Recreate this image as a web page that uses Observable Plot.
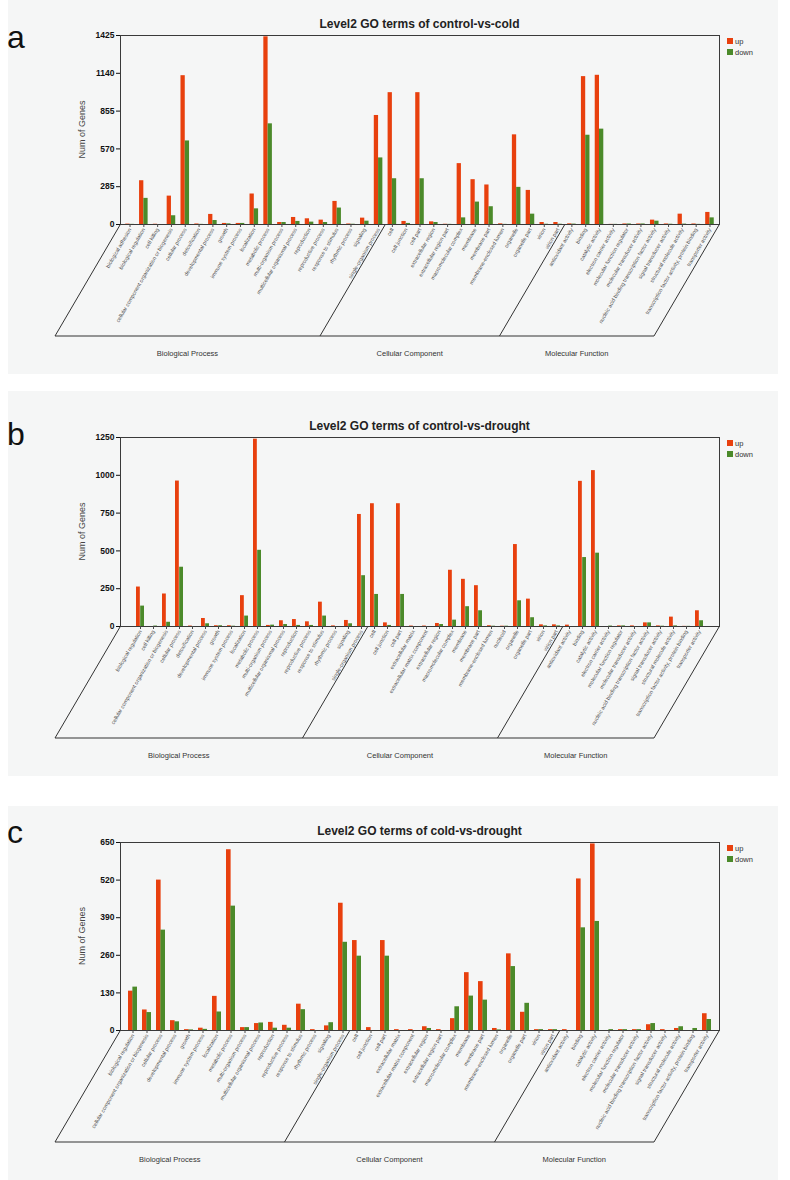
<!DOCTYPE html>
<html>
<head>
<meta charset="utf-8">
<script src="https://cdn.jsdelivr.net/npm/d3@7"></script>
<script src="https://cdn.jsdelivr.net/npm/@observablehq/plot@0.6"></script>
<style>
  body { margin: 0; background: #ffffff; font-family: "Liberation Sans", Arial, sans-serif; }
  #page { position: relative; width: 790px; height: 1180px; overflow: hidden; background: #fff; }
  .bg { position: absolute; left: 8px; width: 770px; background: #f5f6f6; }
  .holder { position: absolute; left: 0; width: 790px; }
  .letter { position: absolute; left: 7px; font-size: 32px; line-height: 1; color: #111; }
  .title { position: absolute; left: 120px; width: 599px; text-align: center; font-weight: bold;
           font-size: 12px; line-height: 14px; color: #222; }
  .leg { position: absolute; left: 727px; font-size: 7.5px; color: #333; line-height: 7px; }
  .leg span.sw { display: inline-block; width: 6px; height: 6px; vertical-align: top; margin-right: 2px; }
  svg g[aria-label="y-axis tick label"] text { font-weight: bold; }
</style>
</head>
<body>
<div id="page"></div>
<script>
// ---------- Panel a: control-vs-cold ----------
const bpA = ["biological adhesion","biological regulation","cell killing","cellular component organization or biogenesis","cellular process","detoxification","developmental process","growth","immune system process","localization","metabolic process","multi-organism process","multicellular organismal process","reproduction","reproductive process","response to stimulus","rhythmic process","signaling","single-organism process"];
const ccA = ["cell","cell junction","cell part","extracellular region","extracellular region part","macromolecular complex","membrane","membrane part","membrane-enclosed lumen","organelle","organelle part","virion","virion part"];
const mfA = ["antioxidant activity","binding","catalytic activity","electron carrier activity","molecular function regulator","molecular transducer activity","nucleic acid binding transcription factor activity","signal transducer activity","structural molecule activity","transcription factor activity, protein binding","transporter activity"];
const upA   = [3,330,2,214,1122,4,76,8,8,230,1415,15,53,43,33,174,4,48,822,  994,23,994,20,2,459,338,298,5,676,257,15,15,  5,1115,1125,1,4,4,33,4,78,4,91];
const downA = [1,197,0,66,630,1,30,5,8,118,759,15,23,18,15,124,2,25,502,     345,8,345,15,1,50,169,134,1,280,78,2,2,      3,673,719,1,4,4,25,2,3,1,50];
const ticksA = [0,285,570,855,1140,1425];

// ---------- Panel b: control-vs-drought ----------
const bpB = ["biological regulation","cell killing","cellular component organization or biogenesis","cellular process","detoxification","developmental process","growth","immune system process","localization","metabolic process","multi-organism process","multicellular organismal process","reproduction","reproductive process","response to stimulus","rhythmic process","signaling","single-organism process"];
const ccB = ["cell","cell junction","cell part","extracellular matrix","extracellular matrix component","extracellular region","macromolecular complex","membrane","membrane part","membrane-enclosed lumen","nucleoid","organelle","organelle part","virion","virion part"];
const mfB = ["antioxidant activity","binding","catalytic activity","electron carrier activity","molecular function regulator","molecular transducer activity","nucleic acid binding transcription factor activity","signal transducer activity","structural molecule activity","transcription factor activity, protein binding","transporter activity"];
const upB   = [261,0,215,962,3,53,5,5,204,1239,7,38,46,31,161,4,40,741,  812,24,812,3,3,20,372,312,270,5,2,542,181,11,11,  9,960,1031,0,4,4,24,4,62,1,104];
const downB = [135,3,28,392,0,18,5,2,69,504,9,13,7,7,69,0,18,336,       212,7,212,0,0,13,42,131,104,2,2,170,58,4,4,        0,456,485,3,4,0,24,2,4,1,38];
const ticksB = [0,250,500,750,1000,1250];

// ---------- Panel c: cold-vs-drought ----------
const bpC = ["biological regulation","cellular component organization or biogenesis","cellular process","developmental process","growth","immune system process","localization","metabolic process","multi-organism process","multicellular organismal process","reproduction","reproductive process","response to stimulus","rhythmic process","signaling","single-organism process"];
const ccC = ["cell","cell junction","cell part","extracellular matrix","extracellular matrix component","extracellular region","extracellular region part","macromolecular complex","membrane","membrane part","membrane-enclosed lumen","organelle","organelle part","virion","virion part"];
const mfC = ["antioxidant activity","binding","catalytic activity","electron carrier activity","molecular function regulator","molecular transducer activity","nucleic acid binding transcription factor activity","signal transducer activity","structural molecule activity","transcription factor activity, protein binding","transporter activity"];
const upC   = [136,71,520,34,3,8,118,625,10,24,28,18,91,3,16,440,  311,10,311,3,3,13,3,41,200,169,7,265,63,3,3,  3,524,645,0,3,3,20,3,7,0,58];
const downC = [150,62,347,30,2,4,64,430,10,26,8,8,72,0,27,305,     257,0,257,0,0,7,0,82,119,105,2,221,94,3,3,     0,355,377,3,3,3,24,0,13,7,38];
const ticksC = [0,130,260,390,520,650];

const groupNames = ["Biological Process","Cellular Component","Molecular Function"];
const RED = "#e8400e", GREEN = "#4b8a2a";

const page = document.getElementById("page");

function addDiv(cls, style, html) {
  const d = document.createElement("div");
  d.className = cls;
  Object.assign(d.style, style);
  if (html != null) d.innerHTML = html;
  page.appendChild(d);
  return d;
}

function drawPanel(cfg) {
  const cats = [...cfg.bp, ...cfg.cc, ...cfg.mf];
  const data = cats.map((c, i) => ({cat: c, up: cfg.up[i], down: cfg.down[i]}));
  const W = 790, ML = 120, MR = 71, MT = cfg.mt, MB = 150, H = cfg.h;
  const P = 0.38;
  const step = (W - ML - MR) / (cats.length + P);
  const bw = step * (1 - P);

  addDiv("bg", {top: cfg.top + "px", height: H + "px"});

  const chart = Plot.plot({
    width: W, height: H,
    marginLeft: ML, marginRight: MR, marginTop: MT, marginBottom: MB,
    style: {background: "transparent", fontFamily: "'Liberation Sans', Arial, sans-serif", overflow: "visible"},
    x: {domain: cats, padding: P, label: null},
    y: {domain: [0, cfg.ticks[cfg.ticks.length - 1]], label: null},
    marks: [
      Plot.barY(data, {x: "cat", y: "up", fill: RED, insetRight: bw / 2}),
      Plot.barY(data, {x: "cat", y: "down", fill: GREEN, insetLeft: bw / 2}),
      Plot.frame({stroke: "#3a3a3a", strokeWidth: 1}),
      Plot.axisX({tickRotate: -60, fontSize: 5.3, tickSize: 3, tickPadding: 1, color: "#4a4a4a", label: null}),
      Plot.axisY({ticks: cfg.ticks, tickFormat: d => String(d), tickSize: 4, tickPadding: 2, fontSize: 8.5, fontWeight: "bold", color: "#111", label: null})
    ]
  });

  const holder = addDiv("holder", {top: cfg.top + "px", height: H + "px"});
  holder.appendChild(chart);

  // Oblique "floor" built from the library's x scale
  const sx = chart.scale("x");
  const gap = (sx.step - sx.bandwidth) / 2;
  const y0 = H - MB;
  const DX = -65, DY = 112;
  const n1 = cfg.bp.length, n2 = cfg.bp.length + cfg.cc.length;
  const xs = [ML, sx.apply(cats[n1]) - gap, sx.apply(cats[n2]) - gap, W - MR];
  const svg = d3.select(chart);
  const g = svg.append("g").attr("stroke", "#333").attr("stroke-width", 1);
  xs.forEach(x => g.append("line").attr("x1", x).attr("y1", y0 + 1).attr("x2", x + DX).attr("y2", y0 + DY));
  g.append("line").attr("x1", xs[0] + DX).attr("y1", y0 + DY).attr("x2", xs[3] + DX).attr("y2", y0 + DY);
  for (let k = 0; k < 3; k++) {
    svg.append("text")
      .attr("x", (xs[k] + xs[k + 1]) / 2 + DX)
      .attr("y", y0 + DY + 20)
      .attr("text-anchor", "middle")
      .attr("font-size", 7.5)
      .attr("fill", "#333")
      .text(groupNames[k]);
  }
  // y axis label
  svg.append("text")
    .attr("transform", `translate(83,${MT + (y0 - MT) / 2}) rotate(-90)`)
    .attr("text-anchor", "middle")
    .attr("dominant-baseline", "middle")
    .attr("font-size", 9)
    .attr("fill", "#444")
    .text("Num of Genes");

  // title, letter, legend
  const frameTop = cfg.top + MT;
  addDiv("title", {top: (frameTop - 18) + "px"}, cfg.title);
  addDiv("letter", {top: cfg.letterTop + "px"}, cfg.letter);
  addDiv("leg", {top: (frameTop + 3) + "px"}, `<span class="sw" style="background:${RED}"></span>up`);
  addDiv("leg", {top: (frameTop + 14) + "px"}, `<span class="sw" style="background:${GREEN}"></span>down`);
}

drawPanel({bp: bpA, cc: ccA, mf: mfA, up: upA, down: downA, ticks: ticksA, top: 0, h: 374, mt: 35,
  title: "Level2 GO terms of control-vs-cold", letter: "a", letterTop: 21});
drawPanel({bp: bpB, cc: ccB, mf: mfB, up: upB, down: downB, ticks: ticksB, top: 391, h: 385, mt: 46,
  title: "Level2 GO terms of control-vs-drought", letter: "b", letterTop: 418});
drawPanel({bp: bpC, cc: ccC, mf: mfC, up: upC, down: downC, ticks: ticksC, top: 806, h: 374, mt: 36,
  title: "Level2 GO terms of cold-vs-drought", letter: "c", letterTop: 816});
</script>
</body>
</html>
